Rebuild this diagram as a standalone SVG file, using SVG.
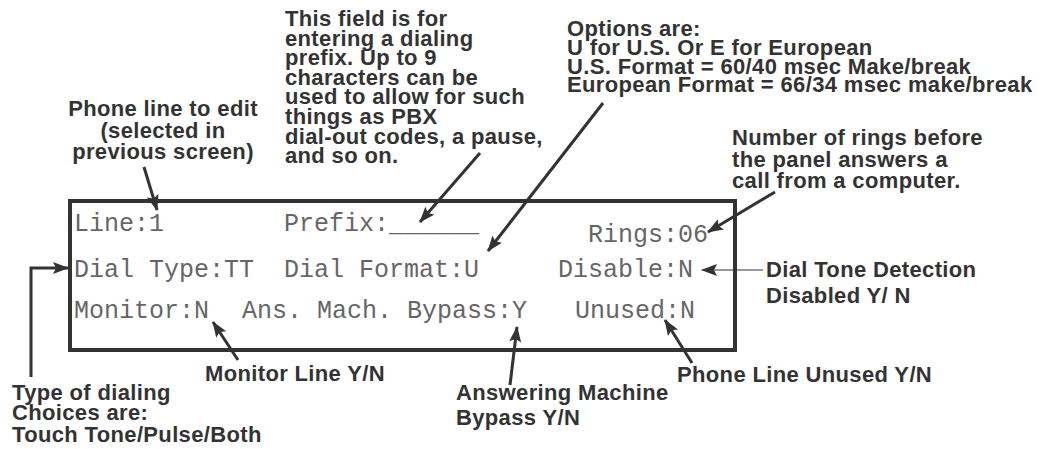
<svg xmlns="http://www.w3.org/2000/svg" width="1043" height="449" viewBox="0 0 1043 449">
<style>
.note{font-family:"Liberation Sans",Arial,sans-serif;font-weight:bold;font-size:22px;letter-spacing:0.35px;fill:#333}
.lcd{font-family:"Liberation Mono","DejaVu Sans Mono",monospace;font-size:25px;fill:#666}
.arr{stroke:#333;stroke-width:3;fill:none;marker-end:url(#ah)}
.thin{stroke:#333;stroke-width:1.2;fill:none;marker-end:url(#ah)}
</style>
<defs>
<marker id="ah" markerUnits="userSpaceOnUse" markerWidth="18" markerHeight="14" refX="15" refY="6" orient="auto" viewBox="0 0 18 14">
<path d="M0,0 L16,6 L0,12 L3,6 z" fill="#333"/>
</marker>
</defs>
<rect width="1043" height="449" fill="#fff"/>
<g id="panel">
<rect x="70" y="201" width="665" height="149" fill="none" stroke="#333" stroke-width="4"/>
<text class="lcd" x="74" y="231">Line:1</text>
<text class="lcd" x="284" y="231">Prefix:______</text>
<text class="lcd" x="588" y="242">Rings:06</text>
<text class="lcd" x="74" y="277">Dial Type:TT</text>
<text class="lcd" x="284" y="277">Dial Format:U</text>
<text class="lcd" x="558" y="277">Disable:N</text>
<text class="lcd" x="74" y="318">Monitor:N</text>
<text class="lcd" x="242" y="318">Ans. Mach. Bypass:Y</text>
<text class="lcd" x="575" y="318">Unused:N</text>
</g>
<g id="note-line">
<text class="note" text-anchor="middle" x="163" y="116">Phone line to edit</text>
<text class="note" text-anchor="middle" x="163" y="138">(selected in</text>
<text class="note" text-anchor="middle" x="163" y="159">previous screen)</text>
</g>
<g id="note-prefix">
<text class="note" x="285" y="26">This field is for</text>
<text class="note" x="285" y="45.6">entering a dialing</text>
<text class="note" x="285" y="65.2">prefix. Up to 9</text>
<text class="note" x="285" y="84.8">characters can be</text>
<text class="note" x="285" y="104.4">used to allow for such</text>
<text class="note" x="285" y="124">things as PBX</text>
<text class="note" x="285" y="143.6">dial-out codes, a pause,</text>
<text class="note" x="285" y="163.2">and so on.</text>
</g>
<g id="note-format">
<text class="note" x="567" y="36">Options are:</text>
<text class="note" x="567" y="55">U for U.S. Or E for European</text>
<text class="note" x="567" y="73.5">U.S. Format = 60/40 msec Make/break</text>
<text class="note" x="567" y="92">European Format = 66/34 msec make/break</text>
</g>
<g id="note-rings">
<text class="note" x="732" y="145">Number of rings before</text>
<text class="note" x="732" y="166.5">the panel answers a</text>
<text class="note" x="732" y="188">call from a computer.</text>
</g>
<g id="note-disable">
<text class="note" x="766" y="277">Dial Tone Detection</text>
<text class="note" x="766" y="303">Disabled Y/ N</text>
</g>
<g id="note-dialtype">
<text class="note" x="12" y="400">Type of dialing</text>
<text class="note" x="12" y="420">Choices are:</text>
<text class="note" x="12" y="442">Touch Tone/Pulse/Both</text>
</g>
<g id="note-monitor">
<text class="note" x="205" y="381">Monitor Line Y/N</text>
</g>
<g id="note-bypass">
<text class="note" x="456" y="400">Answering Machine</text>
<text class="note" x="456" y="425">Bypass Y/N</text>
</g>
<g id="note-unused">
<text class="note" x="677" y="382">Phone Line Unused Y/N</text>
</g>
<g id="connectors">
<line class="arr" x1="144" y1="167" x2="157" y2="210"/>
<line class="arr" x1="480" y1="153" x2="420" y2="222"/>
<line class="arr" x1="603" y1="103" x2="488" y2="251"/>
<line class="arr" x1="775" y1="192" x2="708" y2="232"/>
<line class="thin" x1="763" y1="270" x2="702" y2="270"/>
<polyline class="arr" points="31,377 31,268 68,268"/>
<line class="arr" x1="238" y1="360" x2="213" y2="322"/>
<line class="arr" x1="510" y1="385" x2="517" y2="327"/>
<line class="arr" x1="692" y1="363" x2="665" y2="320"/>
</g>
</svg>
